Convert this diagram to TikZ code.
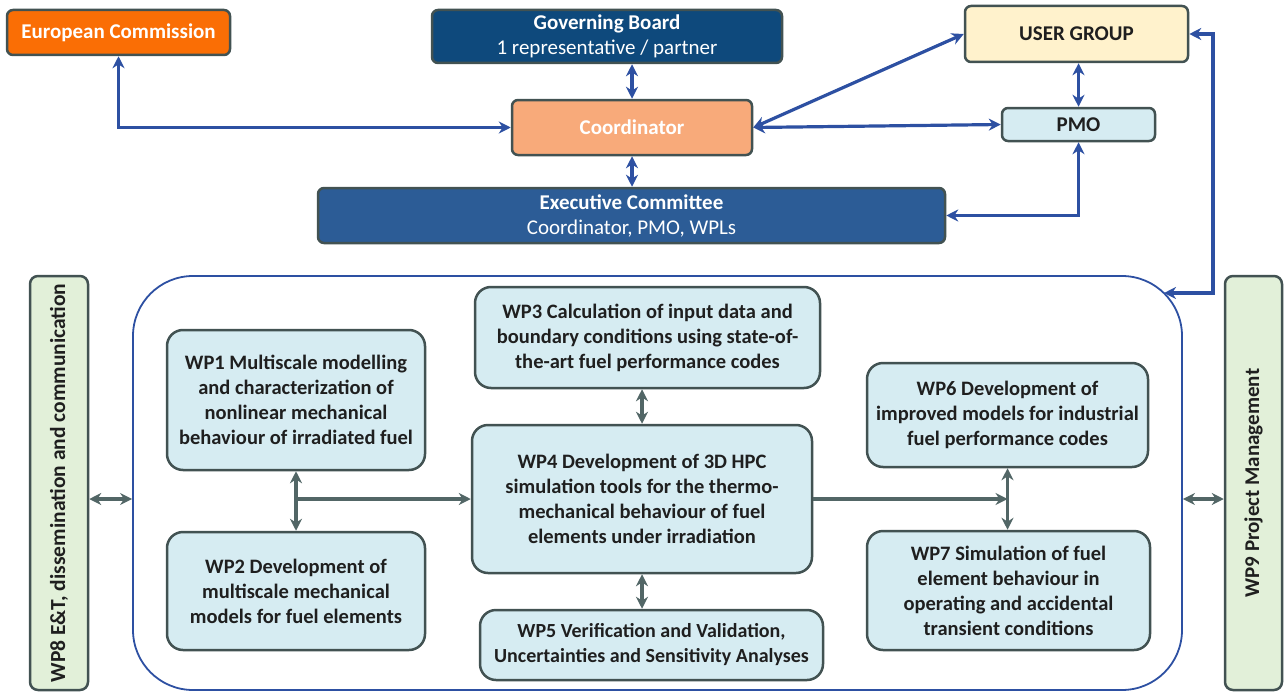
\documentclass[tikz,border=0pt]{standalone}
\usepackage{fontspec}
\setmainfont{Carlito}
\usepackage{tikz}
\usetikzlibrary{arrows.meta,positioning}
\definecolor{ecorange}{RGB}{250,110,5}
\definecolor{coordorange}{RGB}{248,170,122}
\definecolor{gbblue}{RGB}{14,73,124}
\definecolor{exblue}{RGB}{44,92,150}
\definecolor{ugyellow}{RGB}{255,242,204}
\definecolor{wpblue}{RGB}{214,236,242}
\definecolor{wpgreen}{RGB}{226,240,217}
\definecolor{boxline}{RGB}{66,82,82}
\definecolor{linkblue}{RGB}{45,80,162}
\definecolor{linkgray}{RGB}{82,102,102}
\tikzset{
	mgmt/.style = {rounded corners=6pt, draw=boxline, line width=2.5pt,
		align=center, inner sep=0pt, font=\fontsize{21}{25}\selectfont},% organe de gestion
	wpbox/.style = {rounded corners=16pt, draw=boxline, line width=2.5pt,
		fill=wpblue, align=center, inner sep=0pt, text=black!88,
		font=\fontsize{20.5}{25}\selectfont\bfseries},% lot de travail
	wpside/.style = {wpbox, fill=wpgreen, rounded corners=8pt, rotate=90,
		font=\fontsize{21.5}{25}\selectfont\bfseries},% lot transverse
	core/.style = {draw=linkblue, line width=1.8pt, rounded corners=60pt,
		inner sep=0pt},% cadre des lots techniques
	blink/.style = {draw=linkblue, line width=3.2pt},% lien bleu
	glink/.style = {draw=linkgray, line width=3.5pt}% lien gris
}
\begin{document}
\begin{tikzpicture}[x=1pt,y=-1pt,>={Stealth[length=12pt,width=12pt]}]
\useasboundingbox (0,0) rectangle (1287,693);
% gestion
\node [mgmt, fill=ecorange, text=white, minimum width=223pt, minimum height=45pt] (ec) at (118.5,32.5) {\bfseries European Commission};
\node [mgmt, fill=gbblue, text=white, minimum width=350pt, minimum height=53pt] (gb) at (607,36.5) {\bfseries Governing Board\\1 representative / partner};
\node [mgmt, fill=ugyellow, text=black!88, minimum width=223pt, minimum height=56pt] (ug) at (1076.5,34) {\bfseries USER GROUP};
\node [mgmt, fill=coordorange, text=white, minimum width=240pt, minimum height=55pt] (coord) at (632,127.5) {\bfseries Coordinator};
\node [mgmt, fill=wpblue, text=black!88, minimum width=153pt, minimum height=33pt] (pmo) at (1078.5,124.5) {\bfseries PMO};
\node [mgmt, fill=exblue, text=white, minimum width=627pt, minimum height=55pt] (exec) at (631.5,215.5) {\bfseries Executive Committee\\Coordinator, PMO, WPLs};
% lots
\node [core, minimum width=1049pt, minimum height=414pt] (wps) at (657.5,483) {};
\node [wpside, minimum width=414pt, minimum height=58pt] (wp8) at (59,483) {WP8 E\&T, dissemination and communication};
\node [wpside, minimum width=414pt, minimum height=57pt, font=\fontsize{21}{25}\selectfont\bfseries] (wp9) at (1253.5,483) {WP9 Project Management};
\node [wpbox, minimum width=258pt, minimum height=140pt] (wp1) at (296,400) {WP1 Multiscale modelling\\and characterization of\\nonlinear mechanical\\behaviour of irradiated fuel};
\node [wpbox, minimum width=258pt, minimum height=118pt] (wp2) at (296,591) {WP2 Development of\\multiscale mechanical\\models for fuel elements};
\node [wpbox, minimum width=345pt, minimum height=101pt] (wp3) at (647.5,337.5) {WP3 Calculation of input data and\\boundary conditions using state-of-\\the-art fuel performance codes};
\node [wpbox, minimum width=340pt, minimum height=148pt] (wp4) at (642,499) {WP4 Development of 3D HPC\\simulation tools for the thermo-\\mechanical behaviour of fuel\\elements under irradiation};
\node [wpbox, minimum width=343pt, minimum height=70pt, font=\fontsize{20}{25}\selectfont\bfseries] (wp5) at (651.5,645) {WP5 Verification and Validation,\\Uncertainties and Sensitivity Analyses};
\node [wpbox, minimum width=281pt, minimum height=104pt] (wp6) at (1007.5,415) {WP6 Development of\\improved models for industrial\\fuel performance codes};
\node [wpbox, minimum width=283pt, minimum height=119pt] (wp7) at (1008.5,590.5) {WP7 Simulation of fuel\\element behaviour in\\operating and accidental\\transient conditions};
% liens bleus
\coordinate (ugturn) at (1213,293);
\coordinate (wpsin) at (1164,293);
\draw [blink, <->] (ec.south) |- (coord.west);
\draw [blink, <->] (coord.north |- gb.south) -- (coord.north);
\draw [blink, <->] (coord.south) -- (coord.south |- exec.north);
\draw [blink, <->] (coord.east) -- (ug.west);
\draw [blink, <->] (coord.east) -- (pmo.west);
\draw [blink, <->] (pmo.north |- ug.south) -- (pmo.north);
\draw [blink, <->] (pmo.south) |- (exec.east);
\draw [blink, <->] (ug.east) -| (ugturn) -- (wpsin);
% liens gris
\coordinate (j1) at (wp1.south |- wp4.west);
\coordinate (j2) at (wp6.south |- wp4.east);
\draw [glink, <->] (wp8.south |- wp4.west) -- (wps.west |- wp4.west);
\draw [glink, <->] (wps.east |- wp4.east) -- (wp9.north |- wp4.east);
\draw [glink, <->] (wp1.south) -- (wp2.north);
\draw [glink, ->] (j1) -- (wp4.west);
\draw [glink, <->] (wp4.north |- wp3.south) -- (wp4.north);
\draw [glink, <->] (wp4.south) -- (wp4.south |- wp5.north);
\draw [glink, ->] (wp4.east) -- (j2);
\draw [glink, <->] (wp6.south) -- (wp6.south |- wp7.north);
\end{tikzpicture}
\end{document}
